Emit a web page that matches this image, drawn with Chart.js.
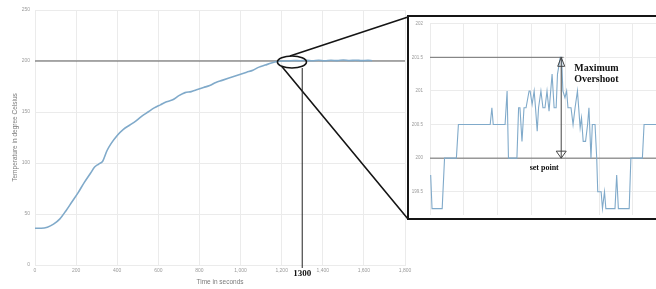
<!DOCTYPE html>
<html>
<head>
<meta charset="utf-8">
<script src="https://cdn.jsdelivr.net/npm/chart.js@4/dist/chart.umd.min.js"></script>
<style>
  html, body { margin: 0; padding: 0; background: #fff; overflow: hidden; }
  #wrap { position: relative; width: 656px; height: 289px; overflow: hidden; }
  #mainChart { position: absolute; left: 0; top: 0; }
  #zoomBox {
    position: absolute; left: 407px; top: 15px;
    width: 300px; height: 201px; overflow: hidden;
    border: 2px solid #151515; background: #fff;
  }
  #zoomChart { position: absolute; left: 0; top: -3px; }
</style>
</head>
<body>
<div id="wrap">
  <canvas id="mainChart" width="656" height="289"></canvas>
  <div id="zoomBox"><canvas id="zoomChart" width="300" height="211"></canvas></div>
</div>
<script>
// main curve: time (s) and temperature (degC)
const mainTime = [0, 30, 60, 90, 120, 150, 180, 210, 240, 270, 290, 310, 330, 350, 370, 400,
  430, 460, 490, 520, 550, 580, 610, 640, 670, 700, 730, 760, 790, 820, 850, 880, 910, 940,
  970, 1000, 1030, 1060, 1090, 1120, 1150, 1180, 1200, 1230, 1260, 1290, 1320, 1350, 1380,
  1410, 1440, 1470, 1500, 1530, 1560, 1590, 1620, 1640];
const mainTemp = [36, 36, 37, 40, 45, 53, 62, 71, 81, 90, 96, 99, 102, 112, 119, 127,
  133, 137, 141, 146, 150, 154, 157, 160, 162, 166, 169, 170, 172, 174, 176, 179, 181, 183,
  185, 187, 189, 191, 194, 196, 198, 199.5, 200, 200, 200.5, 200.3, 200.6, 200.2, 200.8,
  200.3, 200.7, 200.4, 201, 200.5, 200.8, 200.4, 200.6, 200.3];

// zoomed window (arbitrary time units) and temperature
const zoomTime = [0.2, 0.6, 3.6, 4.3, 7.8, 8.4, 17.8, 18.3, 18.7, 22.2, 22.8, 23.2, 25.7, 26.2,
  26.6, 27.2, 27.8, 28.4, 29.3, 29.6, 30.2, 30.8, 31.2, 31.7, 32.1, 32.8, 33.4, 34.0, 34.6,
  35.2, 36.1, 36.7, 37.3, 37.7, 38.2, 38.5, 38.9, 39.3, 39.9, 40.4, 40.8, 41.7, 42.3, 42.9,
  43.6, 44.4, 44.8, 45.3, 46.0, 46.6, 47.0, 47.6, 48.0, 48.8, 49.3, 49.6, 50.6, 51.0, 51.6,
  52.0, 54.7, 55.2, 55.7, 58.9, 59.4, 62.8, 63.3, 82];
const zoomTemp = [199.75, 199.25, 199.25, 200, 200, 200.5, 200.5, 200.75, 200.5, 200.5, 201, 200,
  200, 200.75, 200.75, 200.25, 200.75, 200.75, 201, 201, 200.8, 201, 200.75, 200.4, 200.75,
  201, 200.75, 200.75, 201, 200.7, 201.25, 200.75, 200.75, 201.25, 201.4, 201.5, 201.5, 201,
  200.9, 201, 200.75, 200.75, 200.5, 200.75, 201, 200.45, 200.6, 200.25, 200.25, 200.5, 200.75,
  200, 200.5, 200.5, 200, 199.5, 199.5, 199.25, 199.5, 199.25, 199.25, 199.75, 199.25, 199.25,
  200, 200, 200.5, 200.5];

const setPoint = 200;
const markTime = 1300;
const maxOvershoot = 201.5;
const overshootAt = 38.8;
const zoomTicks = [199.5, 200, 200.5, 201, 201.5, 202];

const curveColor = '#80aaca';
const gridColor = '#ebebeb';
const tickColor = '#9a9a9a';
const serif = '"Liberation Serif", "DejaVu Serif", serif';
const sans = '"Liberation Sans", Arial, sans-serif';

// the box of the zoomed view, in page pixels
const boxLeft = 408, boxTop = 16, boxBottom = 219;

const toPoints = (xs, ys) => xs.map((x, i) => ({ x: x, y: ys[i] }));

// ellipse, connectors and 1300 marker on the main chart
const mainMarks = {
  id: 'mainMarks',
  afterDatasetsDraw(chart) {
    const { ctx, chartArea } = chart;
    const xs = chart.scales.x, ys = chart.scales.y;
    const cx = xs.getPixelForValue(1250), cy = ys.getPixelForValue(199);
    const rx = 14.5, ry = 6;
    ctx.save();
    ctx.strokeStyle = '#151515';
    ctx.lineWidth = 1.6;
    ctx.beginPath();
    ctx.ellipse(cx, cy, rx, ry, 0, 0, Math.PI * 2);
    ctx.stroke();

    ctx.beginPath();
    ctx.moveTo(cx - 2, cy - ry);
    ctx.lineTo(boxLeft, boxTop + 1);
    ctx.moveTo(cx + rx * Math.cos(2.36), cy + ry * Math.sin(2.36));
    ctx.lineTo(boxLeft, boxBottom);
    ctx.stroke();

    const mx = xs.getPixelForValue(markTime);
    ctx.lineWidth = 1;
    ctx.strokeStyle = '#222';
    ctx.beginPath();
    ctx.moveTo(mx, cy + ry);
    ctx.lineTo(mx, chartArea.bottom + 3);
    ctx.stroke();

    ctx.fillStyle = '#111';
    ctx.font = 'bold 9px ' + serif;
    ctx.textAlign = 'center';
    ctx.textBaseline = 'middle';
    ctx.fillText(String(markTime), mx, chartArea.bottom + 8.5);
    ctx.restore();
  }
};

// overshoot arrow and labels on the zoomed chart
const zoomMarks = {
  id: 'zoomMarks',
  afterDatasetsDraw(chart) {
    const { ctx } = chart;
    const xs = chart.scales.x, ys = chart.scales.y;
    const yTop = ys.getPixelForValue(maxOvershoot);
    const ySet = ys.getPixelForValue(setPoint);
    const ax = xs.getPixelForValue(overshootAt);
    ctx.save();
    ctx.strokeStyle = '#6f6f6f';
    ctx.lineWidth = 1;
    ctx.beginPath();
    ctx.moveTo(xs.getPixelForValue(0), yTop);
    ctx.lineTo(xs.getPixelForValue(39.5), yTop);
    ctx.stroke();

    ctx.strokeStyle = '#444';
    ctx.beginPath();
    ctx.moveTo(ax, yTop);
    ctx.lineTo(ax, ySet);
    // open arrow heads
    ctx.moveTo(ax, yTop);
    ctx.lineTo(ax - 3.5, yTop + 9);
    ctx.lineTo(ax + 3.5, yTop + 9);
    ctx.closePath();
    ctx.moveTo(ax, ySet);
    ctx.lineTo(ax - 5, ySet - 7);
    ctx.lineTo(ax + 5, ySet - 7);
    ctx.closePath();
    ctx.stroke();

    ctx.fillStyle = '#111';
    ctx.textAlign = 'left';
    ctx.textBaseline = 'middle';
    ctx.font = 'bold 10px ' + serif;
    ctx.fillText('Maximum', ax + 13, yTop + 11);
    ctx.fillText('Overshoot', ax + 13, yTop + 22);
    ctx.font = 'bold 8px ' + serif;
    ctx.textAlign = 'center';
    ctx.fillText('set point', ax - 17, ySet + 10);
    ctx.restore();
  }
};

new Chart(document.getElementById('mainChart'), {
  type: 'line',
  data: {
    datasets: [{
      data: toPoints(mainTime, mainTemp),
      borderColor: curveColor,
      borderWidth: 1.6,
      pointRadius: 0,
      cubicInterpolationMode: 'monotone'
    }, {
      data: [{ x: 0, y: setPoint }, { x: 1800, y: setPoint }],
      borderColor: '#5a5a5a',
      borderWidth: 1,
      pointRadius: 0
    }]
  },
  options: {
    responsive: false,
    animation: false,
    layout: { padding: { left: 0, top: 10, right: 251, bottom: 0 } },
    plugins: { legend: { display: false }, tooltip: { enabled: false } },
    scales: {
      x: {
        type: 'linear', min: 0, max: 1800,
        afterFit: s => { s.height = 24; },
        grid: { color: gridColor, drawTicks: false },
        border: { color: gridColor },
        ticks: { stepSize: 200, padding: 3, color: tickColor, font: { family: sans, size: 5 } },
        title: { display: true, text: 'Time in seconds', color: '#7a7a7a', padding: { top: 0, bottom: 3 },
                 font: { family: sans, size: 6.5 } }
      },
      y: {
        min: 0, max: 250,
        afterFit: s => { s.width = 35; },
        grid: { color: gridColor, drawTicks: false },
        border: { color: gridColor },
        ticks: { stepSize: 50, padding: 5, color: tickColor, font: { family: sans, size: 5 } },
        title: { display: true, text: 'Temperature in degree Celsius', color: '#7a7a7a',
                 padding: { top: 11, bottom: 0 }, font: { family: sans, size: 6.5 } }
      }
    }
  },
  plugins: [mainMarks]
});

new Chart(document.getElementById('zoomChart'), {
  type: 'line',
  data: {
    datasets: [{
      data: toPoints(zoomTime, zoomTemp),
      borderColor: curveColor,
      borderWidth: 1.1,
      pointRadius: 0,
      tension: 0
    }, {
      data: [{ x: 0, y: setPoint }, { x: 82.5, y: setPoint }],
      borderColor: '#6a6a6a',
      borderWidth: 1,
      pointRadius: 0
    }]
  },
  options: {
    responsive: false,
    animation: false,
    layout: { padding: 0 },
    plugins: { legend: { display: false }, tooltip: { enabled: false } },
    scales: {
      x: {
        type: 'linear', min: 0, max: 82.5,
        afterFit: s => { s.height = 3; },
        grid: { color: gridColor, drawTicks: false },
        border: { display: false },
        ticks: { stepSize: 10, display: false }
      },
      y: {
        min: 199.15, max: 202,
        afterFit: s => { s.width = 21; },
        afterBuildTicks: s => { s.ticks = zoomTicks.map(v => ({ value: v })); },
        grid: { color: gridColor, drawTicks: false },
        border: { display: false },
        ticks: { padding: 7, color: tickColor, font: { family: sans, size: 4.5 },
                 callback: v => String(v) }
      }
    }
  },
  plugins: [zoomMarks]
});
</script>
</body>
</html>
